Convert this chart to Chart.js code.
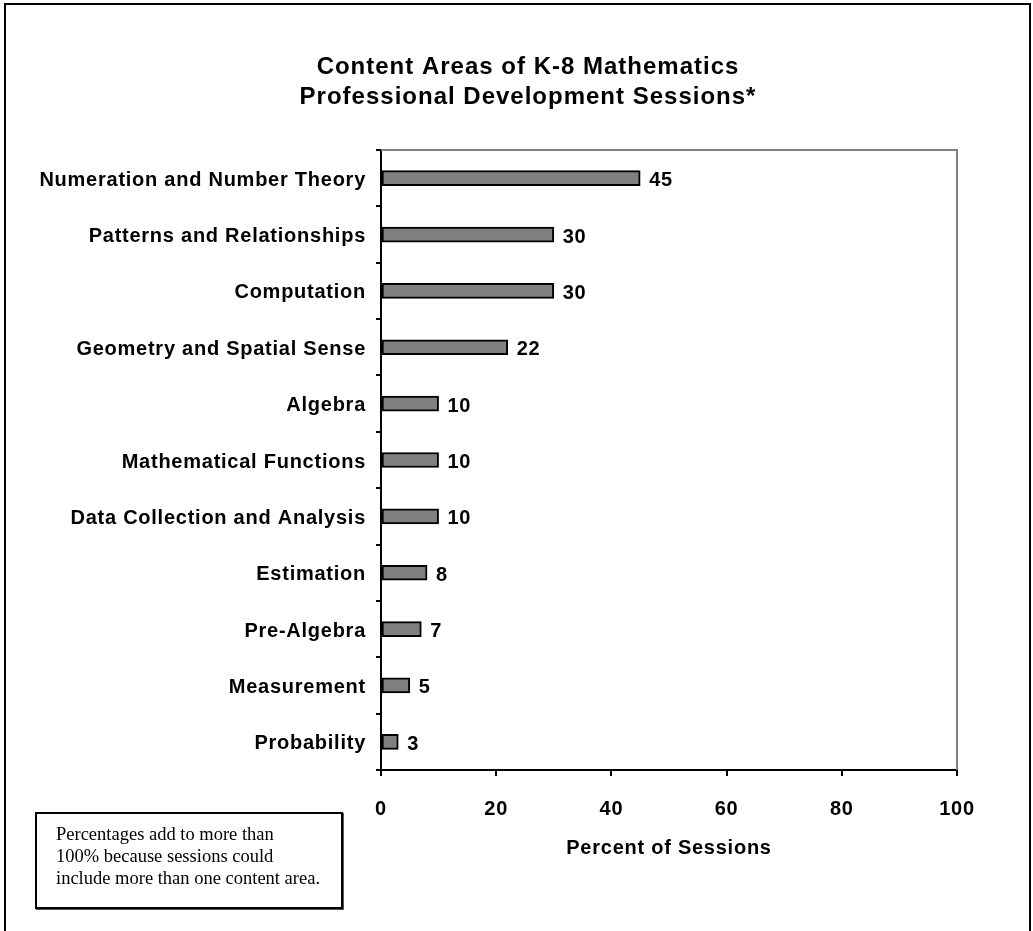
<!DOCTYPE html>
<html>
<head>
<meta charset="utf-8">
<title>Content Areas of K-8 Mathematics Professional Development Sessions</title>
<script src="https://cdn.jsdelivr.net/npm/chart.js@4.4.1/dist/chart.umd.min.js"></script>
<style>
  html, body { margin: 0; padding: 0; background: #fff; overflow: hidden; }
  body { width: 1033px; height: 931px; position: relative; }
  #frame {
    position: absolute; left: 4px; top: 3px; width: 1023px; height: 960px;
    border: 2px solid #000; border-bottom: none;
  }
  #chart { position: absolute; left: 0; top: 0; }
  #note {
    position: absolute; left: 35px; top: 812px; width: 308px; height: 97px;
    box-sizing: border-box; border: 2px solid #000;
    box-shadow: 1px 1px 0 #555;
    padding: 9px 0 0 19px;
    font-family: "Liberation Serif", "Times New Roman", serif;
    font-size: 18.5px; line-height: 22px; color: #000; background: #fff;
    white-space: nowrap;
  }
</style>
</head>
<body>
<div id="frame"></div>
<canvas id="chart" width="1033" height="931"></canvas>
<div id="note">Percentages add to more than<br>100% because sessions could<br>include more than one content area.</div>

<script>
// Content areas, top to bottom
const categories = [
  'Numeration and Number Theory',
  'Patterns and Relationships',
  'Computation',
  'Geometry and Spatial Sense',
  'Algebra',
  'Mathematical Functions',
  'Data Collection and Analysis',
  'Estimation',
  'Pre-Algebra',
  'Measurement',
  'Probability'
];

// Percent of sessions covering each content area
const percentOfSessions = [45, 30, 30, 22, 10, 10, 10, 8, 7, 5, 3];

// Value-axis ticks
const xTickValues = [0, 20, 40, 60, 80, 100];

const titleLines = ['Content Areas of K-8 Mathematics', 'Professional Development Sessions*'];
const xAxisTitle = 'Percent of Sessions';

const FONT = '"Liberation Sans", Arial, Helvetica, sans-serif';
const LETTER_SPACING = '0.75px';

// Slightly wider letter spacing for all canvas text
const spacingPlugin = {
  id: 'spacing',
  beforeDraw(chart) { chart.ctx.letterSpacing = LETTER_SPACING; }
};

// Two-line heading, centred over the figure
const headingPlugin = {
  id: 'heading',
  afterDraw(chart) {
    const { ctx } = chart;
    ctx.save();
    ctx.letterSpacing = '1px';
    ctx.font = 'bold 24px ' + FONT;
    ctx.fillStyle = '#000';
    ctx.textAlign = 'center';
    ctx.textBaseline = 'alphabetic';
    const baselines = [74, 104];
    titleLines.forEach((line, i) => ctx.fillText(line, 528, baselines[i]));
    ctx.restore();
  }
};

// Grey top and right edges of the plot area
const plotFramePlugin = {
  id: 'plotFrame',
  beforeDatasetsDraw(chart) {
    const { ctx, chartArea: a } = chart;
    ctx.save();
    ctx.strokeStyle = '#808080';
    ctx.lineWidth = 2;
    ctx.beginPath();
    ctx.moveTo(a.left, a.top);
    ctx.lineTo(a.right, a.top);
    ctx.lineTo(a.right, a.bottom);
    ctx.stroke();
    ctx.restore();
  }
};

// Value written just past the end of each bar
const valueLabelPlugin = {
  id: 'valueLabels',
  afterDatasetsDraw(chart) {
    const { ctx } = chart;
    const meta = chart.getDatasetMeta(0);
    const data = chart.data.datasets[0].data;
    ctx.save();
    ctx.letterSpacing = '0.6px';
    ctx.font = 'bold 20px ' + FONT;
    ctx.fillStyle = '#000';
    ctx.textAlign = 'left';
    ctx.textBaseline = 'middle';
    meta.data.forEach((bar, i) => {
      ctx.fillText(String(data[i]), bar.x + 9, bar.y + 2.5);
    });
    ctx.restore();
  }
};

new Chart(document.getElementById('chart'), {
  type: 'bar',
  data: {
    labels: categories,
    datasets: [{
      data: percentOfSessions,
      backgroundColor: '#808080',
      borderColor: '#000000',
      borderWidth: 2,
      borderSkipped: false,
      barThickness: 15
    }]
  },
  options: {
    indexAxis: 'y',
    responsive: false,
    animation: false,
    devicePixelRatio: 1,
    layout: { padding: { left: 20, right: 76, top: 150, bottom: 0 } },
    plugins: {
      legend: { display: false },
      tooltip: { enabled: false },
      title: { display: false }
    },
    scales: {
      x: {
        type: 'linear',
        position: 'bottom',
        min: 0,
        max: 100,
        afterBuildTicks(scale) { scale.ticks = xTickValues.map(v => ({ value: v })); },
        afterFit(scale) { scale.height = 161; },
        grid: {
          drawOnChartArea: false,
          drawTicks: true,
          tickLength: 6,
          color: '#000',
          lineWidth: 2
        },
        border: { display: true, color: '#000', width: 2 },
        ticks: {
          color: '#000',
          padding: 21,
          font: { family: FONT, size: 20, weight: 'bold' }
        },
        title: {
          display: true,
          text: xAxisTitle,
          color: '#000',
          font: { family: FONT, size: 20, weight: 'bold', lineHeight: 1.2 },
          padding: { top: 0, bottom: 71 }
        }
      },
      y: {
        type: 'category',
        position: 'left',
        offset: true,
        afterFit(scale) { scale.width = 361; },
        grid: {
          offset: true,
          drawOnChartArea: false,
          drawTicks: true,
          tickLength: 5,
          color: '#000',
          lineWidth: 2
        },
        border: { display: true, color: '#000', width: 2 },
        ticks: {
          color: '#000',
          padding: 10,
          labelOffset: 2,
          autoSkip: false,
          font: { family: FONT, size: 20, weight: 'bold' }
        }
      }
    }
  },
  plugins: [spacingPlugin, headingPlugin, plotFramePlugin, valueLabelPlugin]
});
</script>
</body>
</html>
